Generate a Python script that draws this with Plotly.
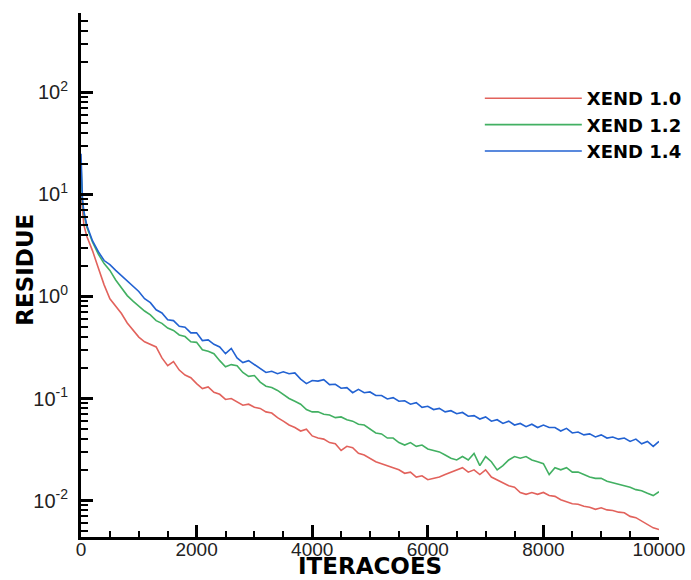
import plotly.graph_objects as go

iterations = [0, 25, 50] + list(range(100, 10001, 100))

xend_10 = [10, 6.5, 5.0,
           3.9, 2.8, 1.9, 1.3, 0.95, 0.8, 0.68, 0.55, 0.47, 0.40,
           0.36, 0.34, 0.32, 0.25, 0.21, 0.23, 0.19, 0.17, 0.16, 0.14,
           0.125, 0.13, 0.115, 0.11, 0.098, 0.10, 0.092, 0.086, 0.088, 0.082,
           0.080, 0.074, 0.072, 0.065, 0.060, 0.055, 0.052, 0.048, 0.050, 0.043,
           0.041, 0.040, 0.037, 0.036, 0.031, 0.034, 0.033, 0.029, 0.028, 0.026,
           0.024, 0.023, 0.022, 0.021, 0.020, 0.0185, 0.019, 0.017, 0.0175, 0.016,
           0.0165, 0.017, 0.018, 0.019, 0.020, 0.021, 0.019, 0.020, 0.018, 0.020,
           0.017, 0.016, 0.015, 0.014, 0.0135, 0.012, 0.0115, 0.012, 0.0115, 0.012,
           0.0112, 0.011, 0.0102, 0.0098, 0.0093, 0.0092, 0.0088, 0.0086, 0.0082, 0.0085,
           0.0081, 0.008, 0.0077, 0.0076, 0.0070, 0.0068, 0.0063, 0.0059, 0.0054, 0.0052]

xend_12 = [20, 8.5, 6.5,
           4.8, 3.4, 2.6, 2.1, 1.8, 1.45, 1.2, 1.02, 0.9, 0.8,
           0.72, 0.66, 0.58, 0.545, 0.49, 0.465, 0.42, 0.405, 0.36, 0.355,
           0.30, 0.29, 0.275, 0.235, 0.205, 0.215, 0.21, 0.18, 0.165, 0.168,
           0.145, 0.132, 0.128, 0.12, 0.11, 0.10, 0.094, 0.088, 0.078, 0.074,
           0.074, 0.070, 0.069, 0.065, 0.066, 0.062, 0.060, 0.056, 0.055, 0.050,
           0.046, 0.045, 0.041, 0.041, 0.037, 0.035, 0.037, 0.034, 0.035, 0.032,
           0.031, 0.030, 0.028, 0.026, 0.025, 0.027, 0.025, 0.029, 0.022, 0.027,
           0.024, 0.020, 0.022, 0.025, 0.027, 0.026, 0.027, 0.025, 0.024, 0.023,
           0.018, 0.021, 0.020, 0.021, 0.019, 0.019, 0.018, 0.017, 0.0165, 0.0165,
           0.0155, 0.015, 0.0145, 0.014, 0.0135, 0.0128, 0.0125, 0.0118, 0.0112, 0.0122]

xend_14 = [25, 9.0, 6.8,
           5.0, 3.5, 2.75, 2.25, 2.05, 1.8, 1.6, 1.42, 1.26, 1.12,
           0.95, 0.87, 0.74, 0.69, 0.59, 0.58, 0.51, 0.50, 0.44, 0.44,
           0.37, 0.375, 0.34, 0.32, 0.275, 0.31, 0.25, 0.225, 0.235, 0.215,
           0.195, 0.18, 0.185, 0.175, 0.183, 0.175, 0.178, 0.155, 0.14, 0.15,
           0.148, 0.153, 0.137, 0.138, 0.126, 0.128, 0.114, 0.123, 0.114, 0.116,
           0.107, 0.107, 0.099, 0.102, 0.094, 0.095, 0.088, 0.091, 0.082, 0.084,
           0.078, 0.080, 0.074, 0.076, 0.071, 0.073, 0.067, 0.068, 0.063, 0.066,
           0.060, 0.062, 0.057, 0.060, 0.055, 0.057, 0.053, 0.056, 0.052, 0.055,
           0.052, 0.052, 0.048, 0.051, 0.046, 0.047, 0.044, 0.045, 0.042, 0.044,
           0.041, 0.042, 0.040, 0.041, 0.038, 0.040, 0.036, 0.038, 0.034, 0.038]

series_names = ["XEND 1.0", "XEND 1.2", "XEND 1.4"]
series_colors = ["#e2625c", "#42b062", "#2262d2"]

x_major = [0, 2000, 4000, 6000, 8000, 10000]
x_minor = [500, 1000, 1500, 2500, 3000, 3500, 4500, 5000, 5500,
           6500, 7000, 7500, 8500, 9000, 9500]
y_major = [0.01, 0.1, 1, 10, 100]
y_major_text = ["10<sup>-2</sup>", "10<sup>-1</sup>", "10<sup>0</sup>",
                "10<sup>1</sup>", "10<sup>2</sup>"]
y_minor = [0.005, 0.006, 0.007, 0.008, 0.009,
           0.02, 0.03, 0.04, 0.05, 0.06, 0.07, 0.08, 0.09,
           0.2, 0.3, 0.4, 0.5, 0.6, 0.7, 0.8, 0.9,
           2, 3, 4, 5, 6, 7, 8, 9,
           20, 30, 40, 50, 60, 70, 80, 90,
           200, 300, 400, 500, 600]

fig = go.Figure()
for name, vals, col in zip(series_names, [xend_10, xend_12, xend_14], series_colors):
    fig.add_trace(go.Scatter(x=iterations, y=vals, mode="lines", name=name,
                             line=dict(color=col, width=1.6)))

title_font = dict(family="DejaVu Sans", size=23, color="black", weight="bold")

fig.update_layout(
    width=691, height=580,
    margin=dict(l=81, r=32, t=13, b=43, autoexpand=False),
    paper_bgcolor="white", plot_bgcolor="white",
    showlegend=True,
    legend=dict(x=0.69, y=0.872, xanchor="left", yanchor="top",
                bgcolor="rgba(0,0,0,0)", itemwidth=97,
                font=dict(family="DejaVu Sans", size=18, color="black", weight="bold")),
    xaxis=dict(range=[0, 10000], showgrid=False, zeroline=False, automargin=False,
               showline=True, linecolor="black", linewidth=3,
               ticks="inside", ticklen=12, tickwidth=3, tickcolor="black",
               tickmode="array", tickvals=x_major,
               ticktext=[str(v) for v in x_major],
               tickfont=dict(family="Liberation Sans", size=19, color="#222"),
               ticklabelstandoff=-7,
               minor=dict(ticks="inside", ticklen=6, tickwidth=2,
                          tickcolor="black", tickvals=x_minor)),
    yaxis=dict(type="log", range=[-2.357, 2.778], showgrid=False, zeroline=False,
               automargin=False,
               showline=True, linecolor="black", linewidth=3,
               ticks="inside", ticklen=12, tickwidth=3, tickcolor="black",
               tickmode="array", tickvals=y_major, ticktext=y_major_text,
               tickfont=dict(family="Liberation Sans", size=20, color="#222"),
               ticklabelstandoff=6,
               minor=dict(ticks="inside", ticklen=7, tickwidth=2,
                          tickcolor="black", tickvals=y_minor)),
    annotations=[
        dict(text="RESIDUE", textangle=-90, xref="paper", yref="paper",
             x=-0.097, y=0.51, xanchor="center", yanchor="middle",
             showarrow=False, font=title_font),
        dict(text="ITERACOES", xref="paper", yref="paper",
             x=0.5, y=-0.0821, xanchor="center", yanchor="bottom",
             showarrow=False, borderpad=0, font=title_font),
    ],
)

fig.write_html("out.html")
